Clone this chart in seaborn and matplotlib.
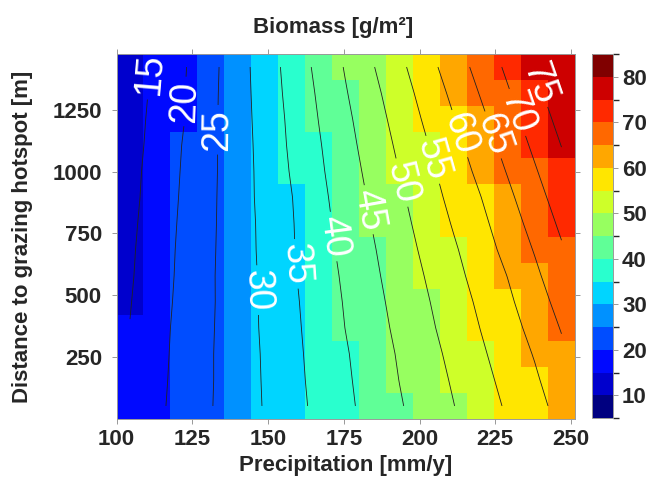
import matplotlib

matplotlib.use("Agg")
import matplotlib.pyplot as plt
import numpy as np
import seaborn as sns
from matplotlib.colors import BoundaryNorm, ListedColormap


# cell centres of the model grid
precipitation = [104.45, 113.35, 122.25, 131.15, 140.05, 148.95, 157.85, 166.75, 175.65,
                 184.55, 193.45, 202.35, 211.25, 220.15, 229.05, 237.95, 246.85]
distance = [52.7, 158.1, 263.5, 368.9, 474.3, 579.7, 685.1, 790.5, 895.9,
            1001.3, 1106.7, 1212.1, 1317.5, 1422.9]

# biomass [g/m2], one list per distance row (bottom to top)
biomass_53m = [15.8, 19.0, 22.0, 24.8, 27.5, 30.3, 33.3, 36.2, 39.0, 41.8, 44.6, 47.3, 49.9, 52.7, 55.6, 58.4, 61.6]
biomass_158m = [15.6, 18.8, 21.8, 24.7, 27.6, 30.4, 33.5, 36.5, 39.3, 42.2, 45.1, 47.8, 50.5, 53.5, 56.4, 59.3, 62.8]
biomass_264m = [15.3, 18.6, 21.7, 24.7, 27.6, 30.5, 33.7, 36.7, 39.6, 42.6, 45.5, 48.3, 51.2, 54.3, 57.2, 60.3, 64.0]
biomass_369m = [15.1, 18.4, 21.6, 24.6, 27.6, 30.7, 33.9, 37.0, 40.1, 43.1, 46.1, 49.0, 52.0, 55.1, 58.1, 61.5, 65.3]
biomass_474m = [14.8, 18.1, 21.4, 24.5, 27.6, 30.8, 34.1, 37.3, 40.4, 43.6, 46.6, 49.6, 52.7, 55.9, 59.1, 62.7, 66.7]
biomass_580m = [14.5, 17.9, 21.2, 24.5, 27.7, 30.9, 34.4, 37.6, 40.8, 44.1, 47.2, 50.3, 53.6, 56.8, 60.1, 64.0, 68.1]
biomass_685m = [14.3, 17.7, 21.1, 24.4, 27.7, 31.1, 34.6, 38.0, 41.3, 44.6, 47.8, 51.1, 54.4, 57.8, 61.4, 65.3, 69.5]
biomass_791m = [14.0, 17.5, 20.9, 24.3, 27.7, 31.2, 34.7, 38.3, 41.8, 45.2, 48.5, 51.9, 55.4, 58.8, 62.6, 66.7, 70.9]
biomass_896m = [13.7, 17.2, 20.7, 24.2, 27.8, 31.4, 34.9, 38.7, 42.3, 45.8, 49.2, 52.8, 56.4, 59.9, 63.9, 68.1, 72.3]
biomass_1001m = [13.5, 17.0, 20.5, 24.1, 27.8, 31.5, 35.4, 39.2, 42.8, 46.5, 50.1, 53.7, 57.4, 61.2, 65.3, 69.5, 73.7]
biomass_1107m = [13.2, 16.7, 20.3, 24.1, 27.8, 31.7, 35.8, 39.6, 43.4, 47.2, 50.9, 54.7, 58.5, 62.5, 66.7, 70.9, 75.1]
biomass_1212m = [12.9, 16.5, 19.9, 24.0, 27.9, 31.9, 36.1, 40.1, 44.0, 47.9, 51.8, 55.8, 59.8, 63.9, 68.1, 72.3, 76.5]
biomass_1318m = [12.6, 16.2, 19.8, 23.9, 27.9, 32.2, 36.5, 40.6, 44.7, 48.7, 52.8, 56.9, 61.1, 65.3, 69.5, 73.7, 77.9]
biomass_1423m = [12.3, 15.9, 19.6, 23.7, 28.0, 32.4, 36.9, 41.2, 45.4, 49.7, 53.9, 58.2, 62.5, 66.7, 70.9, 75.1, 79.3]

color_levels = list(range(5, 90, 5))
contour_levels = list(range(15, 80, 5))
colorbar_ticks = list(range(10, 90, 10))
x_ticks = [100, 125, 150, 175, 200, 225, 250]
y_ticks = [250, 500, 750, 1000, 1250]

# where the contour labels sit (data coords), 15 ... 75
LABEL_SPOTS = [(107.8, 1395), (118.5, 1285), (128.8, 1170), (151.5, 523), (162.5, 630),
               (174.5, 742), (185.0, 850), (195.5, 960), (205.0, 1050), (216.0, 1165),
               (227.0, 1160), (236.0, 1255), (244.0, 1375)]

W, H = 651, 487

sns.set_theme(style="ticks")
plt.rcParams["font.family"] = ["Liberation Sans", "DejaVu Sans"]
plt.rcParams["font.weight"] = "bold"


def main() -> None:
    grid = np.array([biomass_53m, biomass_158m, biomass_264m, biomass_369m, biomass_474m,
                     biomass_580m, biomass_685m, biomass_791m, biomass_896m, biomass_1001m,
                     biomass_1107m, biomass_1212m, biomass_1318m, biomass_1423m])

    cmap = ListedColormap(plt.get_cmap("jet")(np.linspace(0, 1, len(color_levels) - 1)))
    norm = BoundaryNorm(color_levels, cmap.N)

    fig = plt.figure(figsize=(W / 100, H / 100), dpi=100)
    ax = fig.add_axes([116.5 / W, 1 - 419 / H, (575 - 116.5) / W, (419 - 54) / H])
    cax = fig.add_axes([592 / W, 1 - 418 / H, 21 / W, (418 - 54) / H])

    mesh = ax.pcolormesh(precipitation, distance, grid, cmap=cmap, norm=norm, shading="nearest")
    ax.set_xlim(100, 251.3)
    ax.set_ylim(0, 1475.6)

    cs = ax.contour(precipitation, distance, grid, levels=contour_levels,
                    colors="#222222", linewidths=0.6)
    labels = ax.clabel(cs, fmt="%d", fontsize=27, colors="white", inline=True,
                       inline_spacing=4, manual=LABEL_SPOTS)
    for t in labels:
        t.set_fontweight("normal")

    ax.set_xticks(x_ticks)
    ax.set_yticks(y_ticks)
    ax.tick_params(axis="both", which="both", top=True, right=True, direction="out",
                   length=3.5, width=0.6, color="#888888", labelsize=16)
    ax.tick_params(axis="x", pad=3.5)
    ax.tick_params(axis="y", pad=7)
    for side in ax.spines.values():
        side.set_color("#999999")
        side.set_linewidth(0.7)

    ax.set_xlabel("Precipitation [mm/y]", fontsize=16, fontweight="bold")
    ax.set_ylabel("Distance to grazing hotspot [m]", fontsize=16, fontweight="bold")
    ax.xaxis.set_label_coords(0.5, (419 - 455) / 365)
    ax.yaxis.set_label_coords((33 - 116.5) / 458.5, 0.5)
    fig.text(333 / W, 1 - 28 / H, "Biomass [g/m²]", ha="center", va="center",
             fontsize=16, fontweight="bold")

    cb = fig.colorbar(mesh, cax=cax, ticks=colorbar_ticks)
    cb.outline.set_edgecolor("#999999")
    cb.outline.set_linewidth(0.7)
    cax.tick_params(direction="out", length=3.5, width=0.6, color="#888888",
                    labelsize=16, pad=3)

    fig.savefig("out.png", dpi=100)
    plt.close(fig)


if __name__ == "__main__":
    main()
